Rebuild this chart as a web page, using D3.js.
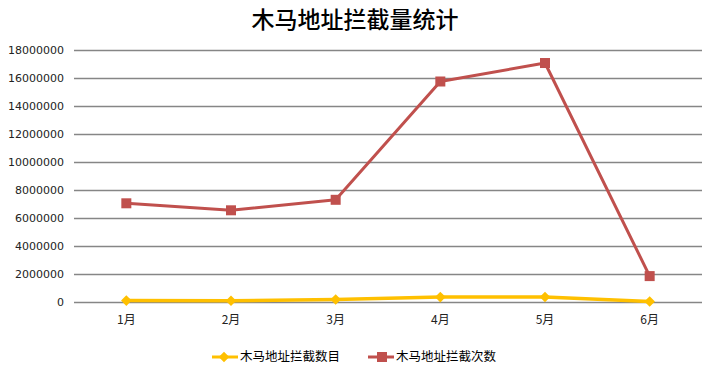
<!DOCTYPE html>
<html>
<head>
<meta charset="utf-8">
<script src="https://cdn.jsdelivr.net/npm/d3@7"></script>
<style>
  body { margin: 0; background: #fff; }
  svg { display: block; font-family: "DejaVu Sans", sans-serif; }
</style>
</head>
<body>
<svg id="chart" width="708" height="370"></svg>
<script>
// chart data
const months = ['1月', '2月', '3月', '4月', '5月', '6月'];
const trojanCount = [100000, 90000, 180000, 350000, 360000, 40000];
const blockCount = [7050000, 6550000, 7300000, 15750000, 17070000, 1850000];
const yTicks = [0, 2000000, 4000000, 6000000, 8000000, 10000000, 12000000, 14000000, 16000000, 18000000];
const seriesNames = ['木马地址拦截数目', '木马地址拦截次数'];

const margin = { top: 50, right: 6, bottom: 68, left: 74 };
const width = 708 - margin.left - margin.right;
const height = 370 - margin.top - margin.bottom;

const svg = d3.select('#chart');

svg.append('text')
  .attr('x', 355)
  .attr('y', 28)
  .attr('text-anchor', 'middle')
  .style('font-family', '"Noto Sans CJK SC", sans-serif')
  .style('font-size', '23px')
  .style('font-weight', 500)
  .style('fill', '#000')
  .text('木马地址拦截量统计');

const g = svg.append('g').attr('transform', `translate(${margin.left},${margin.top})`);

const x = d3.scaleBand().domain(months).range([0, width]);
const y = d3.scaleLinear().domain([0, 18000000]).range([height, 0]);

// gridlines
g.selectAll('.grid')
  .data(yTicks)
  .enter().append('line')
  .attr('class', 'grid')
  .attr('x1', 0)
  .attr('x2', width)
  .attr('y1', d => Math.round(y(d)) + 0.5)
  .attr('y2', d => Math.round(y(d)) + 0.5)
  .style('stroke', '#868686')
  .style('stroke-width', 1.3);

// y axis labels
const yAxis = g.append('g')
  .call(d3.axisLeft(y).tickValues(yTicks).tickFormat(d3.format('d')).tickSize(0).tickPadding(10));
yAxis.select('.domain').remove();
yAxis.selectAll('text').style('font-size', '11px').style('fill', '#222').style('font-family', '"DejaVu Sans", sans-serif');

// x axis labels
const xAxis = g.append('g')
  .attr('transform', `translate(0,${height})`)
  .call(d3.axisBottom(x).tickSize(0).tickPadding(13));
xAxis.select('.domain').remove();
xAxis.selectAll('text').style('font-size', '12px').style('fill', '#222').style('font-family', '"Noto Sans CJK SC", sans-serif');

const cx = d => x(d) + x.bandwidth() / 2;

const line = d3.line()
  .x((d, i) => cx(months[i]))
  .y(d => y(d));

// yellow series
g.append('path')
  .datum(trojanCount)
  .attr('d', line)
  .style('fill', 'none')
  .style('stroke', '#FFC000')
  .style('stroke-width', 3.5)
  .style('stroke-linejoin', 'round');

const diamond = d3.symbol().type(d3.symbolSquare).size(56);
g.selectAll('.pt-yellow')
  .data(trojanCount)
  .enter().append('path')
  .attr('class', 'pt-yellow')
  .attr('d', diamond)
  .attr('transform', (d, i) => `translate(${cx(months[i])},${y(d)}) rotate(45)`)
  .style('fill', '#FFC000');

// red series
g.append('path')
  .datum(blockCount)
  .attr('d', line)
  .style('fill', 'none')
  .style('stroke', '#C0504D')
  .style('stroke-width', 3)
  .style('stroke-linejoin', 'round');

g.selectAll('.pt-red')
  .data(blockCount)
  .enter().append('rect')
  .attr('class', 'pt-red')
  .attr('x', (d, i) => cx(months[i]) - 5)
  .attr('y', d => y(d) - 5)
  .attr('width', 10)
  .attr('height', 10)
  .style('fill', '#C0504D');

// legend
const legend = svg.append('g').attr('transform', 'translate(0,357)');
const legendItems = [
  { name: seriesNames[0], color: '#FFC000', x: 212, marker: 'diamond' },
  { name: seriesNames[1], color: '#C0504D', x: 368, marker: 'square' }
];
legendItems.forEach(item => {
  legend.append('line')
    .attr('x1', item.x).attr('x2', item.x + 26)
    .attr('y1', 0).attr('y2', 0)
    .style('stroke', item.color)
    .style('stroke-width', 3);
  if (item.marker === 'diamond') {
    legend.append('path')
      .attr('d', diamond)
      .attr('transform', `translate(${item.x + 12},0) rotate(45)`)
      .style('fill', item.color);
  } else {
    legend.append('rect')
      .attr('x', item.x + 9).attr('y', -5)
      .attr('width', 10).attr('height', 10)
      .style('fill', item.color);
  }
  legend.append('text')
    .attr('x', item.x + 28)
    .attr('y', 0)
    .attr('dy', '0.35em')
    .style('font-family', '"Noto Sans CJK SC", sans-serif')
    .style('font-size', '12.5px')
    .style('fill', '#000')
    .text(item.name);
});
</script>
</body>
</html>
